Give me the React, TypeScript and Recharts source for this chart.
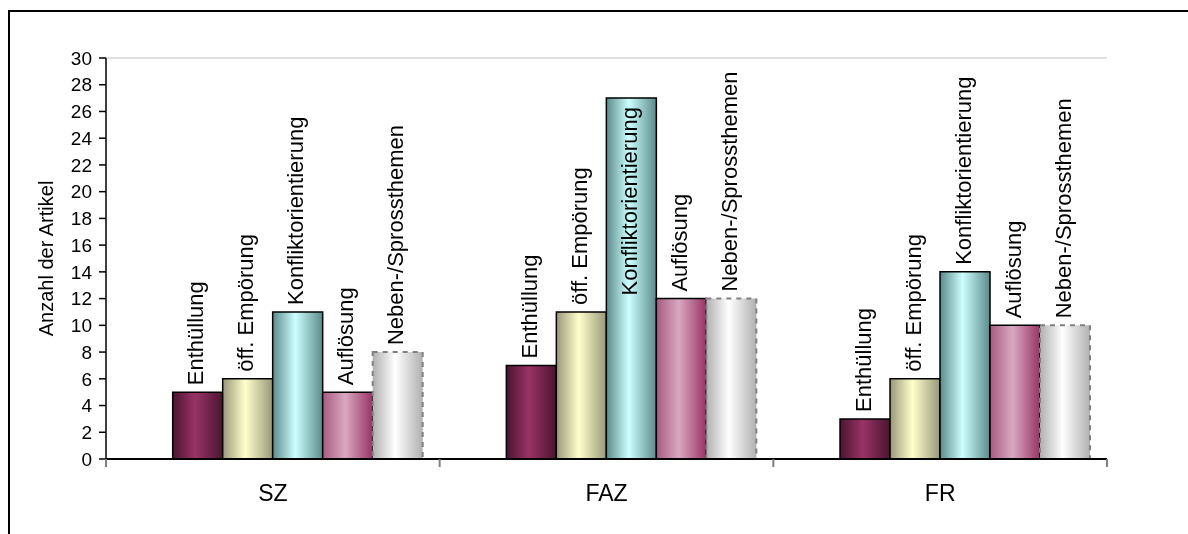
import React from 'react';
import { BarChart, Bar, XAxis, YAxis, CartesianGrid, LabelList } from 'recharts';

const categories = ['SZ', 'FAZ', 'FR'];
const seriesNames = ['', 'Enthüllung', 'öff. Empörung', 'Konfliktorientierung', 'Auflösung', 'Neben-/Sprossthemen'];
const leer: (number | null)[] = [null, null, null];
const enthuellung = [5, 7, 3];
const empoerung = [6, 11, 6];
const konflikt = [11, 27, 14];
const aufloesung = [5, 12, 10];
const neben = [8, 12, 10];
const yTicks = [0, 2, 4, 6, 8, 10, 12, 14, 16, 18, 20, 22, 24, 26, 28, 30];
const gridValues = [2, 4, 6, 8, 10, 12, 14, 16, 18, 20, 22, 24, 26, 28];
const yTitle = 'Anzahl der Artikel';

const seriesValues = [leer, enthuellung, empoerung, konflikt, aufloesung, neben];
const seriesKeys = ['s0', 's1', 's2', 's3', 's4', 's5'];

const data = categories.map((c, i) => {
  const row: any = { name: c };
  seriesKeys.forEach((k, j) => {
    row[k] = seriesValues[j][i];
  });
  return row;
});

const FONT = '"Liberation Sans", Arial, Helvetica, sans-serif';

const gradients = [
  ['#ffffff', '#ffffff', '#ffffff'],
  ['#4a1530', '#993366', '#4a1530'],
  ['#98987a', '#ffffcc', '#98987a'],
  ['#5c8a8a', '#ccffff', '#5c8a8a'],
  ['#a85a82', '#d8a8c0', '#993366'],
  ['#b0b0b0', '#ffffff', '#b0b0b0'],
];

const makeLabel = (text: string) => (props: any) => {
  if (props.value === null || props.value === undefined || !text) return null;
  const x = Number(props.x);
  const y = Number(props.y);
  const w = Number(props.width);
  const cx = x + w / 2 + 5.5;
  const est = text.length * 22 * 0.5;
  const inside = y - 7 - est < 0;
  if (inside) {
    return (
      <text transform={`translate(${cx},${y + 9}) rotate(-90)`} textAnchor="end" fontSize={22} fontFamily={FONT} fill="#000">
        {text}
      </text>
    );
  }
  return (
    <text transform={`translate(${cx},${y - 7}) rotate(-90)`} textAnchor="start" fontSize={22} fontFamily={FONT} fill="#000">
      {text}
    </text>
  );
};

const CategoryTick = (props: any) => {
  const { x, y, payload, width, visibleTicksCount, index } = props;
  const count = visibleTicksCount || categories.length;
  const band = width ? Number(width) / count : 1001 / 3;
  const half = band / 2;
  return (
    <g>
      <line x1={x - half} x2={x - half} y1={y} y2={y + 8} stroke="#808080" strokeWidth={2} />
      {index === count - 1 && <line x1={x + half} x2={x + half} y1={y} y2={y + 8} stroke="#808080" strokeWidth={2} />}
      <text x={x} y={y + 42} textAnchor="middle" fontSize={23} fontFamily={FONT} fill="#000">
        {payload.value}
      </text>
    </g>
  );
};

const YTitle = (props: any) => {
  const vb = props.viewBox || { x: 28, y: 50, width: 70, height: 401 };
  const x = vb.x + 17;
  const y = vb.y + vb.height / 2;
  return (
    <text transform={`translate(${x},${y}) rotate(-90)`} textAnchor="middle" fontSize={20} fontFamily={FONT} fill="#000">
      {yTitle}
    </text>
  );
};

export default function App() {
  return (
    <div style={{ position: 'relative', width: 1172, height: 510 }}>
      <div
        style={{
          position: 'fixed',
          left: 8,
          top: 10,
          right: 0,
          bottom: 0,
          borderTop: '2px solid #000',
          borderLeft: '2px solid #000',
          pointerEvents: 'none',
        }}
      />
      <BarChart
        width={1172}
        height={510}
        data={data}
        margin={{ top: 50, right: 73, bottom: 9, left: 28 }}
        barCategoryGap="5%"
        barGap={0}
      >
        <defs>
          {gradients.map((g, i) => (
            <linearGradient key={i} id={`g${i}`} x1="0" y1="0" x2="1" y2="0">
              <stop offset="0%" stopColor={g[0]} />
              <stop offset="45%" stopColor={g[1]} />
              <stop offset="100%" stopColor={g[2]} />
            </linearGradient>
          ))}
        </defs>
        <YAxis yAxisId="grid" hide domain={[0, 30]} ticks={gridValues} />
        <CartesianGrid yAxisId="grid" vertical={false} stroke="#c0c0c0" strokeWidth={1} />
        <XAxis
          dataKey="name"
          height={50}
          axisLine={{ stroke: '#000', strokeWidth: 2 }}
          tickLine={false}
          tickSize={0}
          tickMargin={0}
          tick={<CategoryTick />}
          interval={0}
        />
        <YAxis
          domain={[0, 30]}
          ticks={yTicks}
          interval={0}
          width={70}
          tickSize={7}
          tickMargin={7}
          axisLine={{ stroke: '#000', strokeWidth: 1.5 }}
          tickLine={{ stroke: '#000', strokeWidth: 1.5 }}
          tick={{ fontSize: 19, fill: '#000', fontFamily: FONT }}
          label={YTitle}
        />
        {seriesKeys.map((k, i) => (
          <Bar
            key={k}
            dataKey={k}
            name={seriesNames[i] || 'leer'}
            fill={`url(#g${i})`}
            stroke={i === 5 ? '#808080' : '#000'}
            strokeWidth={i === 5 ? 2 : 1.5}
            strokeDasharray={i === 5 ? '5 5' : undefined}
            isAnimationActive={false}
          >
            <LabelList dataKey={k} content={makeLabel(seriesNames[i])} />
          </Bar>
        ))}
      </BarChart>
    </div>
  );
}
